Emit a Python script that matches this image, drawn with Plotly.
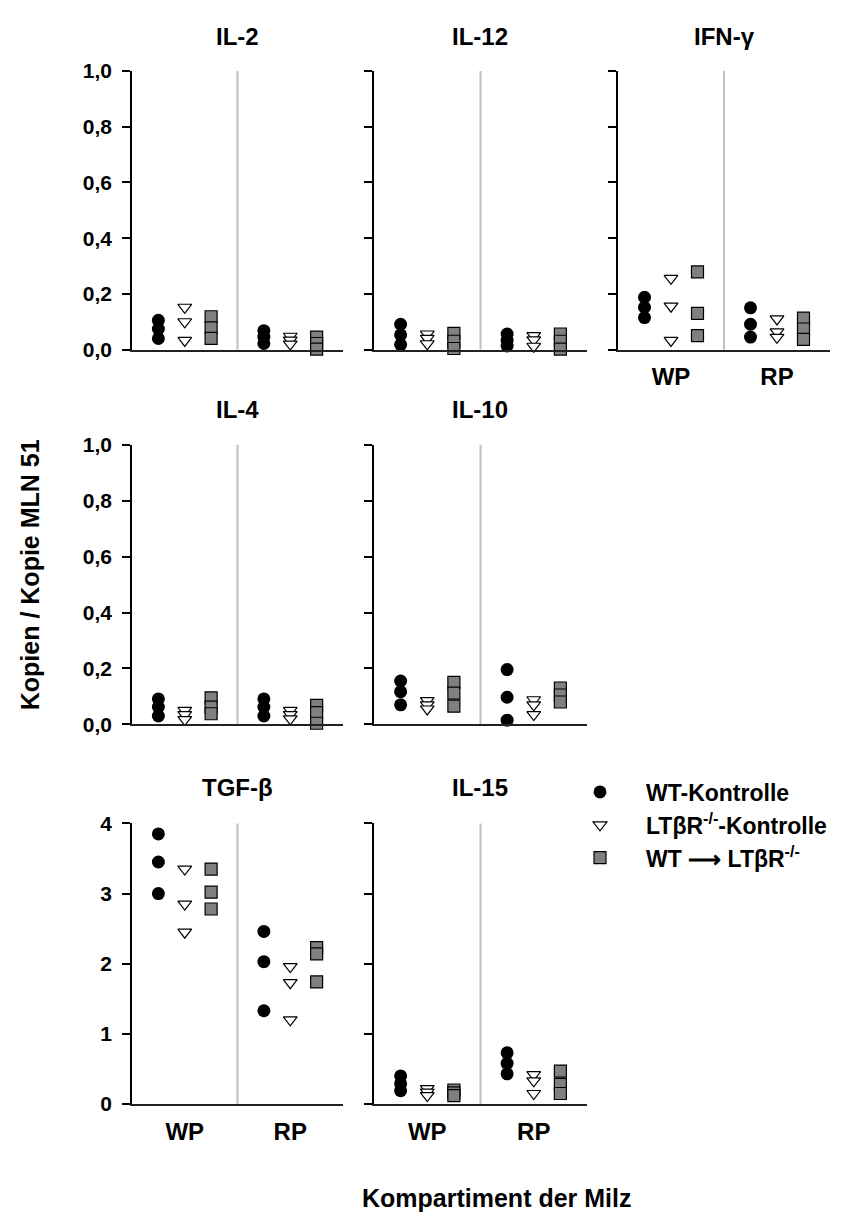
import plotly.graph_objects as go

FONT = "Liberation Sans, Arial, Helvetica, sans-serif"
PAGE_W, PAGE_H = 865, 1227
BODY = 8  # default body margin of the html page
W, H = PAGE_W - 2 * BODY, PAGE_H - 2 * BODY

# ---------------- data ----------------
compartments = ["WP", "RP"]
series_keys = ["wt", "ko", "tx"]
series_names = ["WT-Kontrolle", "LTβR<sup>-/-</sup>-Kontrolle", "WT ⟶ LTβR<sup>-/-</sup>"]

IL2_WT = {"WP": [0.105, 0.074, 0.040], "RP": [0.068, 0.045, 0.022]}
IL2_KO = {"WP": [0.152, 0.100, 0.033], "RP": [0.048, 0.034, 0.020]}
IL2_TX = {"WP": [0.118, 0.078, 0.040], "RP": [0.045, 0.022, 0.002]}

IL12_WT = {"WP": [0.091, 0.053, 0.018], "RP": [0.056, 0.033, 0.013]}
IL12_KO = {"WP": [0.056, 0.040, 0.021], "RP": [0.050, 0.035, 0.012]}
IL12_TX = {"WP": [0.058, 0.030, 0.004], "RP": [0.056, 0.030, 0.002]}

IFN_WT = {"WP": [0.188, 0.152, 0.115], "RP": [0.150, 0.091, 0.045]}
IFN_KO = {"WP": [0.256, 0.156, 0.033], "RP": [0.110, 0.064, 0.044]}
IFN_TX = {"WP": [0.279, 0.130, 0.050], "RP": [0.113, 0.074, 0.037]}

IL4_WT = {"WP": [0.091, 0.062, 0.030], "RP": [0.091, 0.062, 0.030]}
IL4_KO = {"WP": [0.050, 0.035, 0.017], "RP": [0.050, 0.035, 0.020]}
IL4_TX = {"WP": [0.095, 0.062, 0.038], "RP": [0.068, 0.042, 0.004]}

IL10_WT = {"WP": [0.155, 0.117, 0.070], "RP": [0.196, 0.097, 0.015]}
IL10_KO = {"WP": [0.085, 0.070, 0.055], "RP": [0.088, 0.070, 0.035]}
IL10_TX = {"WP": [0.150, 0.112, 0.065], "RP": [0.130, 0.105, 0.080]}

TGF_WT = {"WP": [3.85, 3.45, 3.00], "RP": [2.46, 2.03, 1.33]}
TGF_KO = {"WP": [3.35, 2.85, 2.45], "RP": [1.96, 1.73, 1.20]}
TGF_TX = {"WP": [3.35, 3.02, 2.78], "RP": [2.23, 2.14, 1.74]}

IL15_WT = {"WP": [0.40, 0.29, 0.19], "RP": [0.73, 0.58, 0.43]}
IL15_KO = {"WP": [0.22, 0.17, 0.12], "RP": [0.42, 0.33, 0.15]}
IL15_TX = {"WP": [0.20, 0.16, 0.12], "RP": [0.47, 0.28, 0.15]}

small_tickvals = [0.0, 0.2, 0.4, 0.6, 0.8, 1.0]
small_ticktext = ["0,0", "0,2", "0,4", "0,6", "0,8", "1,0"]
large_tickvals = [0, 1, 2, 3, 4]
large_ticktext = ["0", "1", "2", "3", "4"]

y_title = "Kopien / Kopie MLN 51"
x_title = "Kompartiment der Milz"

# ---------------- layout geometry (page pixels) ----------------
cols = [(132, 343), (374, 587), (618, 830)]
rows = [(60, 344), (441, 726), (827, 1113)]
title_y = [25, 405, 790]


def px(x):
    return (x - BODY) / W


def py(y):
    return 1 - (y - BODY) / H


# title, data(wt,ko,tx), col, row, show x tick labels, large scale
panels = [
    ("IL-2", (IL2_WT, IL2_KO, IL2_TX), 0, 0, False, False),
    ("IL-12", (IL12_WT, IL12_KO, IL12_TX), 1, 0, False, False),
    ("IFN-γ", (IFN_WT, IFN_KO, IFN_TX), 2, 0, True, False),
    ("IL-4", (IL4_WT, IL4_KO, IL4_TX), 0, 1, False, False),
    ("IL-10", (IL10_WT, IL10_KO, IL10_TX), 1, 1, False, False),
    ("TGF-β", (TGF_WT, TGF_KO, TGF_TX), 0, 2, True, True),
    ("IL-15", (IL15_WT, IL15_KO, IL15_TX), 1, 2, True, True),
]

marker_styles = {
    "wt": dict(symbol="circle", size=13, color="black", line=dict(color="black", width=0)),
    "ko": dict(symbol="triangle-down", size=12, color="white", line=dict(color="black", width=1.2)),
    "tx": dict(symbol="square", size=12, color="#808080", line=dict(color="black", width=1.2)),
}

fig = go.Figure()
annotations = []
shapes = []
layout_axes = {}

for i, (title, data, c, r, show_x, large) in enumerate(panels):
    n = i + 1
    xa = "x" if n == 1 else f"x{n}"
    ya = "y" if n == 1 else f"y{n}"
    for key, name, d in zip(series_keys, series_names, data):
        xs, ys = [], []
        for comp in compartments:
            xs += [comp] * len(d[comp])
            ys += d[comp]
        fig.add_trace(go.Scatter(
            x=xs, y=ys, mode="markers", name=name,
            marker=marker_styles[key], offsetgroup=key,
            legendgroup=key, showlegend=(n == 1),
            xaxis=xa, yaxis=ya, cliponaxis=False, hoverinfo="skip",
        ))
    x0, x1 = cols[c]
    ytop, ybot = rows[r]
    layout_axes[f"xaxis{n}"] = dict(
        domain=[px(x0), px(x1)], anchor=ya, type="category",
        categoryorder="array", categoryarray=compartments,
        range=[-0.5, 1.5], showline=True, linecolor="#222", linewidth=1.5,
        ticks="", showgrid=False, zeroline=False, showticklabels=show_x,
        tickfont=dict(family=FONT, size=24, color="black", weight="bold"),
        ticklabelstandoff=5, fixedrange=True,
    )
    layout_axes[f"yaxis{n}"] = dict(
        domain=[py(ybot), py(ytop)], anchor=xa,
        range=[0, 4] if large else [0, 1],
        tickvals=large_tickvals if large else small_tickvals,
        ticktext=large_ticktext if large else small_ticktext,
        showticklabels=(c == 0), ticks="outside", ticklen=8, tickwidth=1.5,
        tickcolor="black", showline=True, linecolor="black", linewidth=1.5,
        showgrid=False, zeroline=False,
        tickfont=dict(family=FONT, size=21, color="black", weight="bold"),
        ticklabelstandoff=6, fixedrange=True,
    )
    # grey separator between WP and RP
    shapes.append(dict(type="line", xref=xa, yref=f"{ya} domain", x0=0.5, x1=0.5,
                       y0=0, y1=1, line=dict(color="#c0c0c0", width=2), layer="below"))
    annotations.append(dict(text=title, x=px((x0 + x1) / 2), y=py(title_y[r]),
                            xref="paper", yref="paper", xanchor="center", yanchor="middle",
                            showarrow=False,
                            font=dict(family=FONT, size=24, color="black", weight="bold")))

annotations.append(dict(text=y_title, x=px(30), y=py(574), xref="paper", yref="paper",
                        textangle=-90, xanchor="center", yanchor="middle", showarrow=False,
                        font=dict(family=FONT, size=25, color="black", weight="bold")))
annotations.append(dict(text=x_title, x=px(496), y=py(1209), xref="paper", yref="paper",
                        xanchor="center", yanchor="middle", showarrow=False,
                        font=dict(family=FONT, size=25, color="black", weight="bold")))

fig.update_layout(
    width=W, height=H, margin=dict(l=0, r=0, t=0, b=0),
    paper_bgcolor="white", plot_bgcolor="white",
    scattermode="group", scattergap=0.25,
    showlegend=True,
    legend=dict(x=px(554), y=py(773), xanchor="left", yanchor="top",
                bgcolor="rgba(0,0,0,0)", itemwidth=82, tracegroupgap=0,
                itemsizing="trace",
                font=dict(family=FONT, size=23, color="black", weight="bold")),
    annotations=annotations, shapes=shapes,
    **layout_axes,
)

fig.write_html("out.html")
